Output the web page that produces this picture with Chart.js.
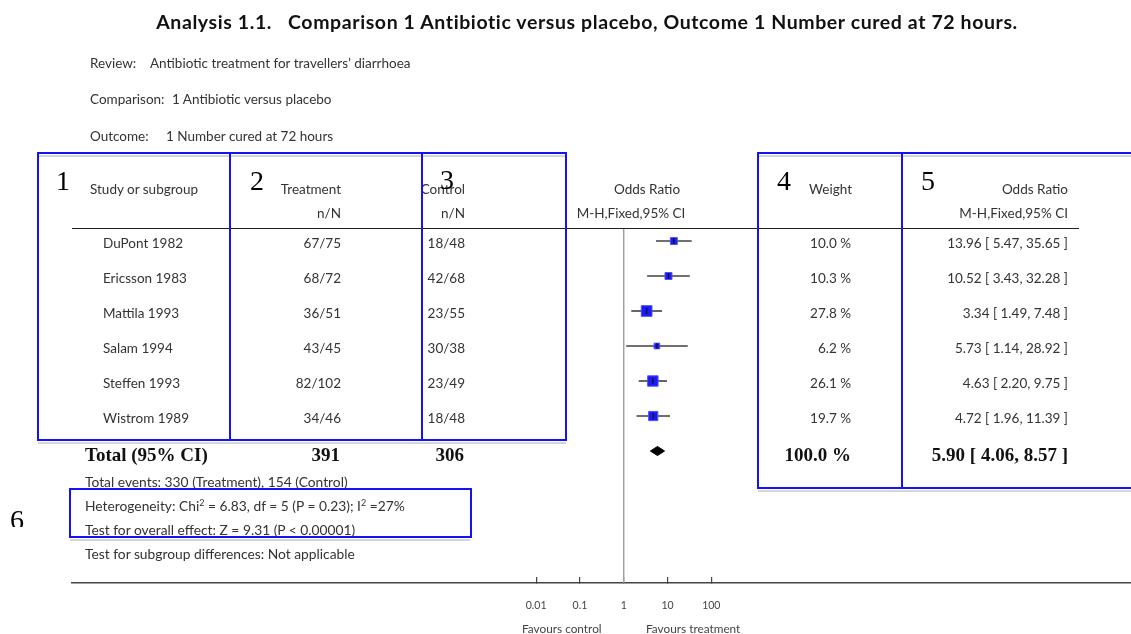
<!DOCTYPE html>
<html>
<head>
<meta charset="utf-8">
<script src="https://cdn.jsdelivr.net/npm/chart.js@4.4.1/dist/chart.umd.min.js"></script>
<style>
html,body{margin:0;padding:0;background:#fff;}
#wrap{position:relative;width:1131px;height:634px;overflow:hidden;background:#fff;}
#c{position:absolute;left:0;top:0;}
.t{position:absolute;white-space:nowrap;font-family:Lato,"Noto Sans",sans-serif;color:#333;line-height:1;transform:translateY(-50%);}
.title{font-weight:700;font-size:19.5px;letter-spacing:0.6px;color:#111;}
.info{font-size:13.5px;}
.tb{font-size:13.5px;}
.tot{font-family:"Liberation Serif",serif;font-weight:700;font-size:19px;color:#111;}
.foot{font-size:13.8px;}
.fav{font-size:11.8px;color:#444;}
.num{font-family:"Liberation Serif",serif;font-size:28px;color:#000;}
.box{position:absolute;border:2px solid #1212ff;box-sizing:border-box;}
.hl{position:absolute;}
sup{font-size:9px;vertical-align:top;position:relative;top:-1px;}
</style>
</head>
<body>
<div id="wrap">
<canvas id="c" width="1131" height="634"></canvas>
</div>
<script>
// ---------------- data ----------------
const studies = ['DuPont 1982', 'Ericsson 1983', 'Mattila 1993', 'Salam 1994', 'Steffen 1993', 'Wistrom 1989'];
const treatEvents = [67, 68, 36, 43, 82, 34];
const treatTotal  = [75, 72, 51, 45, 102, 46];
const ctrlEvents  = [18, 42, 23, 30, 23, 18];
const ctrlTotal   = [48, 68, 55, 38, 49, 48];
const weights     = [10.0, 10.3, 27.8, 6.2, 26.1, 19.7];
const oddsRatio   = [13.96, 10.52, 3.34, 5.73, 4.63, 4.72];
const ciLow       = [5.47, 3.43, 1.49, 1.14, 2.20, 1.96];
const ciHigh      = [35.65, 32.28, 7.48, 28.92, 9.75, 11.39];
const totalTreat = 391, totalCtrl = 306, totalWeight = 100.0;
const totalOR = 5.90, totalLow = 4.06, totalHigh = 8.57;
const tickValues = [0.01, 0.1, 1, 10, 100];
const tickLabels = ['0.01', '0.1', '1', '10', '100'];

// ---------------- layout ----------------
const W = 1131, H = 634;
const wrap = document.getElementById('wrap');
const totalRow = studies.length;
const yMin = -0.3714, yMax = 9.771;
const diamondHalf = 0.13;

function txt(str, x, y, align, cls, html) {
  const d = document.createElement('div');
  d.className = 't ' + (cls || '');
  if (html) d.innerHTML = str; else d.textContent = str;
  if (align === 'right') d.style.right = (W - x) + 'px';
  else if (align === 'center') { d.style.left = x + 'px'; d.style.transform = 'translate(-50%,-50%)'; }
  else d.style.left = x + 'px';
  d.style.top = y + 'px';
  wrap.appendChild(d);
  return d;
}
function hline(x1, x2, y, h, color) {
  const d = document.createElement('div');
  d.className = 'hl';
  d.style.left = x1 + 'px'; d.style.width = (x2 - x1) + 'px';
  d.style.top = y + 'px'; d.style.height = h + 'px'; d.style.background = color;
  wrap.appendChild(d);
}
function box(x1, y1, x2, y2) {
  const d = document.createElement('div');
  d.className = 'box';
  d.style.left = x1 + 'px'; d.style.top = y1 + 'px';
  d.style.width = (x2 - x1) + 'px'; d.style.height = (y2 - y1) + 'px';
  wrap.appendChild(d);
}

const squareSide = w => 1.8 * Math.sqrt(w) + 1.2;

// ---------------- chart ----------------
const datasets = [];
datasets.push({
  type: 'line', data: [{x: 1, y: yMin}, {x: 1, y: yMax}],
  borderColor: '#a0a0a0', borderWidth: 1.5, pointRadius: 0, order: 5
});
studies.forEach((s, i) => {
  datasets.push({
    type: 'line', data: [{x: ciLow[i], y: i}, {x: ciHigh[i], y: i}],
    borderColor: '#404040', borderWidth: 1.6, pointRadius: 0, order: 3
  });
});
datasets.push({
  type: 'scatter',
  data: oddsRatio.map((v, i) => ({x: v, y: i})),
  pointStyle: 'rect',
  pointRadius: ctx => squareSide(weights[ctx.dataIndex]) / Math.SQRT2,
  backgroundColor: '#1a1af5', borderColor: '#5050ff', borderWidth: 1, order: 2
});
datasets.push({
  type: 'scatter',
  data: oddsRatio.map((v, i) => ({x: v, y: i})),
  pointStyle: 'line', pointRotation: 90, pointRadius: 3,
  borderColor: '#111', borderWidth: 1.2, order: 1
});
datasets.push({
  type: 'line',
  data: [{x: totalLow, y: totalRow}, {x: totalOR, y: totalRow - diamondHalf}, {x: totalHigh, y: totalRow}],
  borderColor: '#000', borderWidth: 1, pointRadius: 0, backgroundColor: '#000', fill: '+1', order: 1
});
datasets.push({
  type: 'line',
  data: [{x: totalLow, y: totalRow}, {x: totalOR, y: totalRow + diamondHalf}, {x: totalHigh, y: totalRow}],
  borderColor: '#000', borderWidth: 1, pointRadius: 0, backgroundColor: '#000', fill: false, order: 1
});

const chart = new Chart(document.getElementById('c'), {
  type: 'scatter',
  data: {datasets},
  options: {
    responsive: false, animation: false, devicePixelRatio: 1,
    layout: {autoPadding: false, padding: {left: 72, top: 228, right: 0, bottom: 0}},
    plugins: {legend: {display: false}, tooltip: {enabled: false}},
    scales: {
      x: {
        type: 'logarithmic', position: 'bottom',
        min: Math.pow(10, -12.596), max: Math.pow(10, 11.582),
        afterBuildTicks: scale => { scale.ticks = tickValues.map(v => ({value: v})); },
        afterFit: scale => { scale.height = 51; },
        border: {display: true, color: '#444', width: 1.6},
        grid: {display: true, drawOnChartArea: false, drawTicks: true, tickLength: -6, color: '#444', lineWidth: 1.2},
        ticks: {
          autoSkip: false, maxRotation: 0, padding: 22, color: '#444',
          font: {family: 'Lato', size: 10.5},
          callback: (v, i) => tickLabels[i]
        }
      },
      y: {type: 'linear', reverse: true, min: yMin, max: yMax, display: false}
    }
  }
});

// ---------------- texts ----------------
txt('Analysis 1.1.\u00a0\u00a0 Comparison 1 Antibiotic versus placebo, Outcome 1 Number cured at 72 hours.', 587, 22, 'center', 'title');
txt('Review:', 90, 64, 'left', 'info');
txt('Antibiotic treatment for travellers\u2019 diarrhoea', 150, 64, 'left', 'info');
txt('Comparison:', 90, 100, 'left', 'info');
txt('1 Antibiotic versus placebo', 172, 100, 'left', 'info');
txt('Outcome:', 90, 137, 'left', 'info');
txt('1 Number cured at 72 hours', 166, 137, 'left', 'info');

txt('Study or subgroup', 90, 190, 'left', 'tb');
txt('Treatment', 341, 190, 'right', 'tb');
txt('Control', 465, 190, 'right', 'tb');
txt('n/N', 341, 214, 'right', 'tb');
txt('n/N', 465, 214, 'right', 'tb');
txt('Odds Ratio', 647, 190, 'center', 'tb');
txt('M-H,Fixed,95% CI', 631, 214, 'center', 'tb');
txt('Weight', 852, 190, 'right', 'tb');
txt('Odds Ratio', 1068, 190, 'right', 'tb');
txt('M-H,Fixed,95% CI', 1068, 214, 'right', 'tb');
hline(72, 1079, 227.5, 1.5, '#222');

const yS = chart.scales.y;
studies.forEach((s, i) => {
  const y = yS.getPixelForValue(i) + 3;
  txt(s, 103, y, 'left', 'tb');
  txt(treatEvents[i] + '/' + treatTotal[i], 341, y, 'right', 'tb');
  txt(ctrlEvents[i] + '/' + ctrlTotal[i], 465, y, 'right', 'tb');
  txt(weights[i].toFixed(1) + ' %', 851, y, 'right', 'tb');
  txt(oddsRatio[i].toFixed(2) + ' [ ' + ciLow[i].toFixed(2) + ', ' + ciHigh[i].toFixed(2) + ' ]', 1068, y, 'right', 'tb');
});
const yT = yS.getPixelForValue(totalRow) + 3;
txt('Total (95% CI)', 85, yT, 'left', 'tot');
txt(String(totalTreat), 340, yT, 'right', 'tot');
txt(String(totalCtrl), 464, yT, 'right', 'tot');
txt(totalWeight.toFixed(1) + ' %', 851, yT, 'right', 'tot');
txt(totalOR.toFixed(2) + ' [ ' + totalLow.toFixed(2) + ', ' + totalHigh.toFixed(2) + ' ]', 1068, yT, 'right', 'tot');

const sumTE = treatEvents.reduce((a, b) => a + b, 0), sumCE = ctrlEvents.reduce((a, b) => a + b, 0);
txt('Total events: ' + sumTE + ' (Treatment), ' + sumCE + ' (Control)', 85, 482, 'left', 'foot');
txt('Heterogeneity: Chi<sup>2</sup> = 6.83, df = 5 (P = 0.23); I<sup>2</sup> =27%', 85, 506, 'left', 'foot', true);
txt('Test for overall effect: Z = 9.31 (P &lt; 0.00001)', 85, 530, 'left', 'foot', true);
txt('Test for subgroup differences: Not applicable', 85, 554, 'left', 'foot');

txt('Favours control', 522, 629, 'left', 'fav');
txt('Favours treatment', 646, 629, 'left', 'fav');

// faint grey edges of the original frame
hline(38, 566, 155, 2, '#d6d6d6');
hline(758, 1131, 155, 2, '#d6d6d6');
hline(38, 566, 442, 2, '#d6d6d6');
hline(758, 1131, 490, 2, '#d6d6d6');
hline(70, 470, 539, 2, '#d6d6d6');

// annotation boxes
box(37, 152, 231, 441);
box(229, 152, 423, 441);
box(421, 152, 567, 441);
box(757, 152, 903, 489);
box(901, 152, 1145, 489);
box(69, 488, 472, 538);

txt('1', 56, 181, 'left', 'num');
txt('2', 250, 181, 'left', 'num');
txt('3', 440, 180, 'left', 'num');
txt('4', 777, 181, 'left', 'num');
txt('5', 921, 181, 'left', 'num');
const six = document.createElement('div');
six.style.cssText = 'position:absolute;left:8px;top:500px;width:30px;height:27px;overflow:hidden;';
six.innerHTML = '<div class="t num" style="left:2px;top:20px;">6</div>';
wrap.appendChild(six);
</script>
</body>
</html>
